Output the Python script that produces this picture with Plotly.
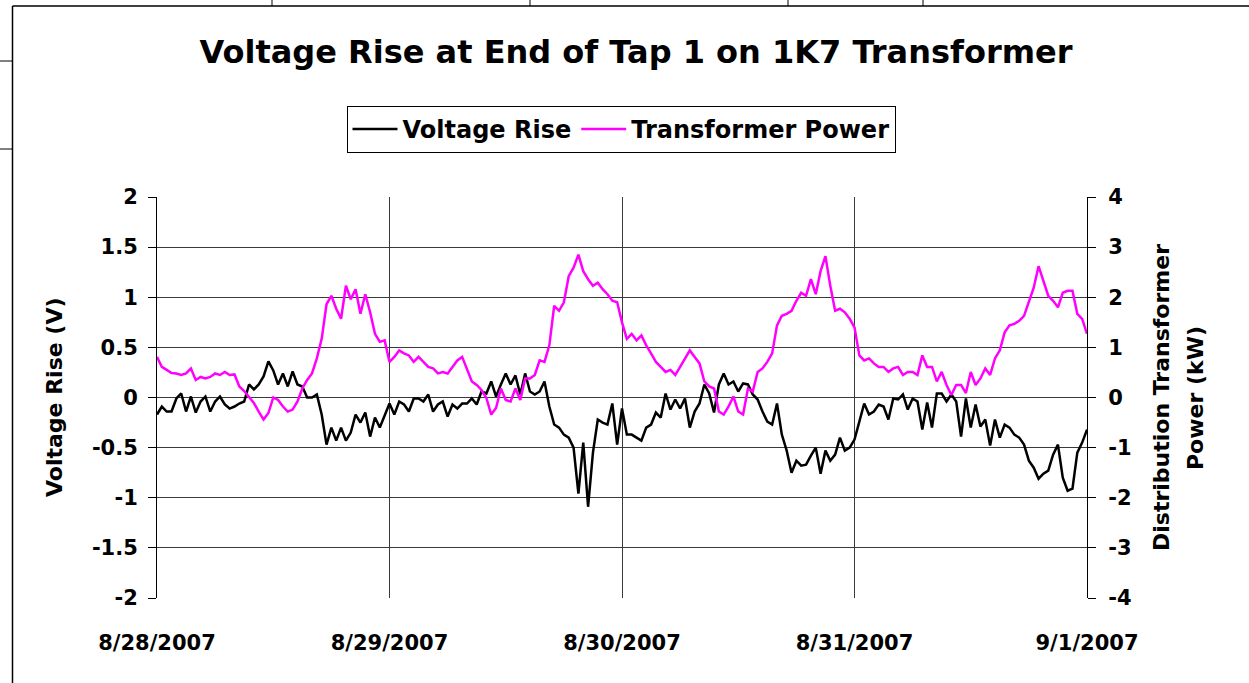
import pandas as pd
import plotly.graph_objects as go

# ---------------- data (30-minute readings) ----------------
start_time = "2007-08-28 00:00"
step = "30min"

volt_day1 = [-0.17, -0.09, -0.14, -0.14, -0.01, 0.04, -0.14, 0.01, -0.15, -0.04, 0.01, -0.14,
             -0.04, 0.01, -0.07, -0.11, -0.09, -0.06, -0.04, 0.13, 0.08, 0.13, 0.21, 0.36,
             0.27, 0.13, 0.24, 0.11, 0.26, 0.13, 0.11, 0.0, 0.0, 0.03, -0.17, -0.47,
             -0.30, -0.43, -0.30, -0.43, -0.35, -0.17, -0.25, -0.15, -0.39, -0.20, -0.30, -0.17]
volt_day2 = [-0.06, -0.17, -0.04, -0.07, -0.14, -0.01, -0.01, -0.04, 0.03, -0.14, -0.07, -0.04,
             -0.19, -0.07, -0.11, -0.06, -0.06, -0.01, -0.07, 0.06, 0.04, 0.16, 0.01, 0.13,
             0.24, 0.13, 0.22, 0.03, 0.24, 0.06, 0.03, 0.06, 0.16, -0.09, -0.27, -0.30,
             -0.37, -0.40, -0.50, -0.96, -0.45, -1.09, -0.55, -0.22, -0.25, -0.27, -0.06, -0.47]
volt_day3 = [-0.11, -0.37, -0.37, -0.40, -0.43, -0.30, -0.27, -0.15, -0.20, 0.04, -0.12, -0.02,
             -0.11, -0.01, -0.30, -0.14, -0.06, 0.13, 0.04, -0.15, 0.13, 0.24, 0.13, 0.16,
             0.06, 0.14, 0.13, 0.03, -0.02, -0.14, -0.24, -0.27, -0.06, -0.37, -0.53, -0.75,
             -0.63, -0.68, -0.67, -0.58, -0.50, -0.76, -0.53, -0.63, -0.57, -0.40, -0.53, -0.50]
volt_day4 = [-0.42, -0.24, -0.06, -0.17, -0.14, -0.07, -0.09, -0.22, -0.01, -0.02, 0.03, -0.12,
             -0.01, -0.04, -0.32, -0.05, -0.30, 0.04, 0.04, -0.04, 0.03, -0.04, -0.39, -0.01,
             -0.30, -0.07, -0.29, -0.22, -0.48, -0.22, -0.40, -0.27, -0.30, -0.37, -0.40, -0.47,
             -0.63, -0.70, -0.81, -0.76, -0.73, -0.57, -0.47, -0.80, -0.93, -0.91, -0.55, -0.45]
volt_end = [-0.32]

power_day1 = [0.81, 0.61, 0.55, 0.49, 0.48, 0.45, 0.48, 0.58, 0.35, 0.41, 0.38, 0.41,
              0.48, 0.45, 0.51, 0.45, 0.46, 0.22, 0.13, 0.02, -0.11, -0.28, -0.44, -0.31,
              0.0, -0.05, -0.18, -0.28, -0.24, -0.08, 0.18, 0.35, 0.48, 0.78, 1.17, 1.86,
              2.03, 1.77, 1.57, 2.23, 1.96, 2.16, 1.67, 2.06, 1.70, 1.27, 1.11, 1.14]
power_day2 = [0.71, 0.81, 0.94, 0.88, 0.84, 0.71, 0.81, 0.71, 0.61, 0.58, 0.48, 0.51,
              0.48, 0.61, 0.74, 0.81, 0.55, 0.32, 0.25, 0.15, -0.01, -0.34, -0.21, 0.18,
              -0.05, -0.08, 0.18, -0.05, 0.38, 0.38, 0.45, 0.74, 0.71, 1.04, 1.83, 1.73,
              1.90, 2.42, 2.59, 2.85, 2.52, 2.36, 2.23, 2.29, 2.16, 2.06, 1.93, 1.90]
power_day3 = [1.50, 1.17, 1.27, 1.14, 1.24, 1.04, 0.88, 0.71, 0.61, 0.51, 0.55, 0.45,
              0.61, 0.78, 0.94, 0.81, 0.68, 0.32, 0.22, 0.18, -0.28, -0.34, -0.18, 0.02,
              -0.28, -0.34, 0.18, 0.12, 0.51, 0.58, 0.71, 0.88, 1.44, 1.63, 1.67, 1.73,
              1.93, 2.09, 2.03, 2.36, 2.06, 2.52, 2.82, 2.23, 1.73, 1.77, 1.70, 1.57]
power_day4 = [1.40, 0.84, 0.74, 0.78, 0.68, 0.61, 0.61, 0.51, 0.58, 0.61, 0.45, 0.51,
              0.51, 0.45, 0.84, 0.61, 0.61, 0.32, 0.51, 0.25, 0.05, 0.25, 0.25, 0.09,
              0.51, 0.25, 0.38, 0.58, 0.45, 0.78, 0.94, 1.30, 1.44, 1.47, 1.53, 1.63,
              1.90, 2.19, 2.62, 2.33, 2.03, 1.93, 1.80, 2.09, 2.13, 2.13, 1.67, 1.57]
power_end = [1.27]

x_tick_dates = ["2007-08-28", "2007-08-29", "2007-08-30", "2007-08-31", "2007-09-01"]
x_tick_labels = ["8/28/2007", "8/29/2007", "8/30/2007", "8/31/2007", "9/1/2007"]
y_tick_vals = [-2, -1.5, -1, -0.5, 0, 0.5, 1, 1.5, 2]
y_tick_labels = ["-2", "-1.5", "-1", "-0.5", "0", "0.5", "1", "1.5", "2"]
y2_tick_vals = [-4, -3, -2, -1, 0, 1, 2, 3, 4]
y2_tick_labels = ["-4", "-3", "-2", "-1", "0", "1", "2", "3", "4"]

voltage = volt_day1 + volt_day2 + volt_day3 + volt_day4 + volt_end
power = power_day1 + power_day2 + power_day3 + power_day4 + power_end
times = pd.date_range(start_time, periods=len(voltage), freq=step)

# ---------------- figure ----------------
W, H = 1249, 683
L, R, T, B = 157, 1087, 197, 598
FONT = "DejaVu Sans"


def px(x):
    return (x - L) / (R - L)


def py(y):
    return (B - y) / (B - T)


fig = go.Figure()
fig.add_trace(go.Scatter(x=times, y=voltage, name="Voltage Rise", mode="lines",
                         line=dict(color="black", width=2.5), yaxis="y"))
fig.add_trace(go.Scatter(x=times, y=power, name="Transformer Power", mode="lines",
                         line=dict(color="#FF00FF", width=2.5), yaxis="y2"))

tickfont = dict(family=FONT, size=21, color="black", weight="bold")

fig.update_layout(
    width=W, height=H, autosize=False,
    margin=dict(l=L, r=W - R, t=T, b=H - B, pad=0),
    paper_bgcolor="white", plot_bgcolor="white",
    font=dict(family=FONT, color="black"),
    title=dict(text="Voltage Rise at End of Tap 1 on 1K7 Transformer",
               font=dict(family=FONT, size=32, color="black", weight="bold"),
               xref="container", yref="container", x=636 / W, y=1 - 52 / H,
               xanchor="center", yanchor="middle"),
    legend=dict(orientation="h", x=px(621), y=py(106), xanchor="center", yanchor="top",
                bordercolor="black", borderwidth=1, bgcolor="white",
                font=dict(family=FONT, size=24, color="black", weight="bold"),
                itemwidth=45, tracegroupgap=0),
    xaxis=dict(type="date", range=[x_tick_dates[0], x_tick_dates[-1]],
               tickvals=x_tick_dates, ticktext=x_tick_labels, tickfont=tickfont,
               showgrid=True, gridcolor="#3a3a3a", gridwidth=1, ticks="",
               ticklabelstandoff=30, showline=False, zeroline=False),
    yaxis=dict(range=[-2, 2], tickvals=y_tick_vals, ticktext=y_tick_labels,
               tickfont=tickfont, ticks="outside", ticklen=8, tickcolor="black",
               showline=True, linecolor="black", linewidth=1,
               showgrid=True, gridcolor="#3a3a3a", gridwidth=1, zeroline=False,
               ticklabelstandoff=6),
    yaxis2=dict(range=[-4, 4], tickvals=y2_tick_vals, ticktext=y2_tick_labels,
                tickfont=tickfont, overlaying="y", side="right", ticks="outside",
                ticklen=8, tickcolor="black", showline=True, linecolor="black",
                linewidth=1, showgrid=False, zeroline=False, ticklabelstandoff=8),
    showlegend=True,
)

axis_font = dict(family=FONT, size=22, color="black", weight="bold")
fig.add_annotation(text="Voltage Rise (V)", xref="paper", yref="paper",
                   x=px(54), y=py(398), textangle=-90, showarrow=False,
                   xanchor="center", yanchor="middle", font=axis_font)
fig.add_annotation(text="Distribution Transformer", xref="paper", yref="paper",
                   x=px(1161), y=py(398), textangle=-90, showarrow=False,
                   xanchor="center", yanchor="middle", font=axis_font)
fig.add_annotation(text="Power (kW)", xref="paper", yref="paper",
                   x=px(1195), y=py(398), textangle=-90, showarrow=False,
                   xanchor="center", yanchor="middle", font=axis_font)

# surrounding sheet frame lines
frame = dict(color="black", width=1.5)
fig.add_shape(type="line", xref="paper", yref="paper", x0=px(12.5), x1=px(12.5),
              y0=py(6), y1=py(683), line=frame)
fig.add_shape(type="line", xref="paper", yref="paper", x0=px(12.5), x1=px(1249),
              y0=py(6), y1=py(6), line=frame)
for yy in (61, 149):
    fig.add_shape(type="line", xref="paper", yref="paper", x0=px(0), x1=px(12.5),
                  y0=py(yy), y1=py(yy), line=dict(color="black", width=1))
for xx in (272, 530, 788, 923):
    fig.add_shape(type="line", xref="paper", yref="paper", x0=px(xx), x1=px(xx),
                  y0=py(0), y1=py(6), line=dict(color="black", width=1))

fig.write_html("out.html", config={"displayModeBar": False},
               post_script="document.body.style.margin='0';document.body.style.overflow='hidden';")
